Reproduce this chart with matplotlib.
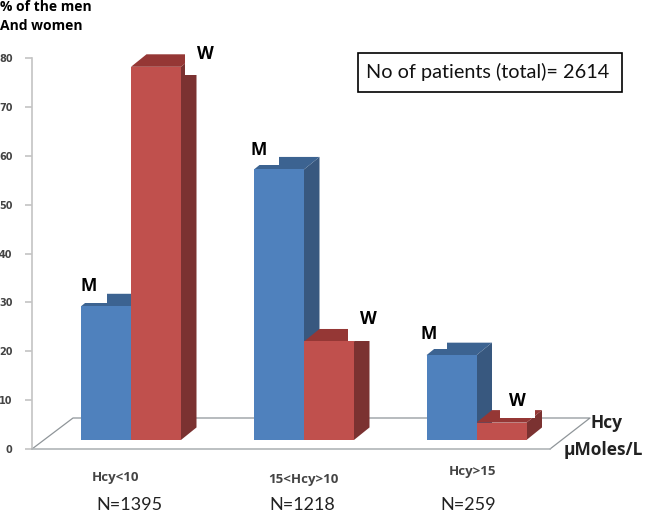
import matplotlib
matplotlib.use('Agg')
import matplotlib.pyplot as plt
from matplotlib.patches import Polygon, Rectangle

# values
groups = ['Hcy<10', '15<Hcy>10', 'Hcy>15']
counts = ['N=1395', 'N=1218', 'N=259']
men = [29.2, 57.2, 19.2]
women = [78.2, 22, 5.4]
yticks = [0, 10, 20, 30, 40, 50, 60, 70, 80]

W, H = 649, 512
BLUE, BLUE_SIDE, BLUE_TOP = '#4F81BD', '#38587F', '#3C6391'
RED, RED_SIDE, RED_TOP = '#C0504D', '#7B3231', '#953735'
FLOOR = '#8f9599'

plt.rcParams['font.family'] = ['Lato', 'DejaVu Sans']


def fx(x):
    return x / W


def fy(y):
    return 1 - y / H


fig = plt.figure(figsize=(W / 100, H / 100), dpi=100)
ax = fig.add_axes([fx(32), fy(449), fx(518), (449 - 58) / H])
ax.set_xlim(32, 550)
ax.set_ylim(0, 80)
ax.patch.set_alpha(0)

for s in ['top', 'right']:
    ax.spines[s].set_visible(False)
ax.spines['left'].set_color('#c4c4c4')
ax.spines['left'].set_linewidth(1.2)
ax.spines['bottom'].set_color('#b0b5b8')
ax.spines['bottom'].set_linewidth(1.2)
ax.set_xticks([])
ax.set_yticks(yticks)
ax.tick_params(axis='y', length=5, width=1.2, color='#c4c4c4', labelsize=7, labelcolor='#444444', pad=9)
for lab in ax.get_yticklabels():
    lab.set_fontweight('bold')
    lab.set_fontfamily('DejaVu Sans')

# floor of the 3d box
floor_x = [32, 73, 590, 550]
floor_y = [449, 418, 418, 449]
ax.add_line(plt.Line2D([fx(v) for v in floor_x], [fy(v) for v in floor_y], transform=fig.transFigure,
                       color=FLOOR, lw=0.9, clip_on=False, zorder=1))

# bars: front face from the library, depth faces offset from it
bar_w = 50
dx = 15.5
dy = 12.5 / 4.8875
base = 1.85
left_edges = [81, 254, 426.5]


def bar3d(x0, val, front, side, top):
    x1 = x0 + bar_w
    ax.add_patch(Polygon([(x1, base), (x1 + dx, base + dy), (x1 + dx, val + dy), (x1, val)],
                         facecolor=side, edgecolor='none', zorder=2, clip_on=False))
    ax.add_patch(Polygon([(x0, val), (x0 + dx, val + dy), (x1 + dx, val + dy), (x1, val)],
                         facecolor=top, edgecolor='none', zorder=2, clip_on=False))
    ax.bar(x0, val - base, bottom=base, width=bar_w, align='edge', color=front, zorder=3, clip_on=False)


for i in range(3):
    bar3d(left_edges[i], men[i], BLUE, BLUE_SIDE, BLUE_TOP)
    bar3d(left_edges[i] + bar_w, women[i], RED, RED_SIDE, RED_TOP)

# white boxes behind the M / W labels bite into the tops of the bars
masks = [(185, 40, 35, 35), (70, 275, 37, 28), (243, 140, 36, 25), (348, 308, 35, 33), (418, 322, 29, 27),
         (500, 392, 35, 26)]
for x, y, w, h in masks:
    fig.add_artist(Rectangle((fx(x), fy(y + h)), w / W, h / H, transform=fig.transFigure, facecolor='white',
                             edgecolor='none', zorder=4))

letters = [('W', 205, 54), ('M', 89, 286), ('M', 259, 150), ('W', 368, 319), ('M', 429, 334), ('W', 517, 401)]
for t, x, y in letters:
    fig.text(fx(x), fy(y), t, ha='center', va='center', fontsize=12.5, fontweight='bold', family='Open Sans', zorder=5)

fig.text(fx(0), fy(7), '% of the men', ha='left', va='center', fontsize=10, fontweight='bold', family='Open Sans')
fig.text(fx(0), fy(26), 'And women', ha='left', va='center', fontsize=10, fontweight='bold', family='Open Sans')

group_x = [116, 303, 473]
group_y = [478, 479, 472]
for g, x, y in zip(groups, group_x, group_y):
    fig.text(fx(x), fy(y), g, ha='center', va='center', fontsize=9.5, fontweight='bold', color='#444444',
             family='Open Sans')

count_x = [129, 302, 468]
for c, x in zip(counts, count_x):
    fig.text(fx(x), fy(505), c, ha='center', va='center', fontsize=13, color='#222222')

fig.text(fx(590), fy(423), 'Hcy', ha='left', va='center', fontsize=12.5, fontweight='bold', color='#222222',
         family='Open Sans')
fig.text(fx(564), fy(450), 'µMoles/L', ha='left', va='center', fontsize=12.5, fontweight='bold', color='#222222',
         family='Open Sans')

fig.add_artist(Rectangle((fx(358), fy(92)), 264 / W, 39 / H, transform=fig.transFigure, facecolor='white',
                         edgecolor='black', lw=1.2, zorder=4))
fig.text(fx(488), fy(72), 'No of patients (total)= 2614', ha='center', va='center', fontsize=14.3, color='#111111',
         zorder=5)

fig.savefig('out.png', dpi=100)
